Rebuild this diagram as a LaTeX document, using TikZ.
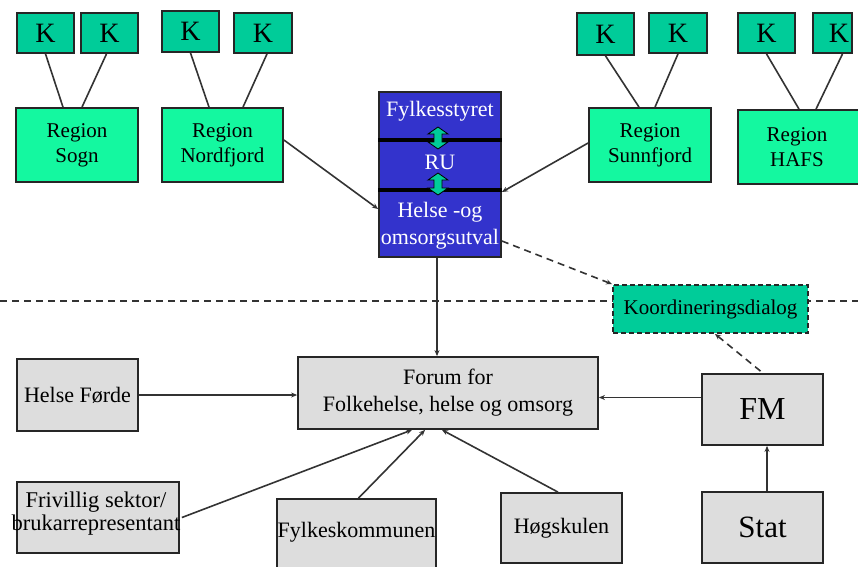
\documentclass[tikz,border=0pt]{standalone}
\usepackage{fontspec}
\setmainfont{Liberation Serif}
\usetikzlibrary{arrows.meta,calc}
\definecolor{kteal}{RGB}{0,204,153}
\definecolor{rgreen}{RGB}{20,248,160}
\definecolor{cblue}{RGB}{51,51,204}
\definecolor{bgray}{RGB}{221,221,221}
\newcommand\dblarr[3]{%
  \draw[dbl] (#1,#2) -- ({#1+10},{#2+7}) -- ({#1+4},{#2+7}) -- ({#1+4},{#3-7}) -- ({#1+10},{#3-7}) -- (#1,#3)
    -- ({#1-10},{#3-7}) -- ({#1-4},{#3-7}) -- ({#1-4},{#2+7}) -- ({#1-10},{#2+7}) -- cycle;}
\begin{document}
\begin{tikzpicture}[x=1pt,y=-1pt,
 box/.style={draw=black!85,line width=1.8pt,inner sep=0pt,align=center},
 sz/.style 2 args={minimum width=#1pt,minimum height=#2pt},
 kbox/.style={box,fill=kteal,font=\fontsize{28}{30}\selectfont},
 rbox/.style={box,fill=rgreen,font=\fontsize{21}{25}\selectfont},
 gbox/.style={box,fill=bgray,font=\fontsize{22}{27}\selectfont},
 bbox/.style={box,fill=cblue},
 wtxt/.style={text=white,font=\fontsize{22}{27}\selectfont,align=center,inner sep=0pt},
 btxt/.style={text=black,font=\fontsize{22}{27}\selectfont,align=center,inner sep=0pt},
 link/.style={draw=black!80,line width=1.6pt},
 arr/.style={link,-{Stealth[length=6pt,width=5pt]}},
 dasharr/.style={arr,dash pattern=on 7pt off 5pt},
 dbl/.style={fill=kteal,draw=black,line width=0.8pt}
]
\useasboundingbox (0,0) rectangle (858,566);
\clip (0,0) rectangle (858,566);
\fill[white] (0,0) rectangle (858,566);

% dashed separator
\coordinate (sepL) at (0,301);
\coordinate (sepR) at (858,301);
\draw[link,dash pattern=on 7pt off 5pt] (sepL) -- (sepR);

% K boxes
\node[kbox,sz={57}{40}] (k1) at (45.5,33) {K};
\node[kbox,sz={57}{40}] (k2) at (109.5,33) {K};
\node[kbox,sz={57}{41}] (k3) at (190.5,31.5) {K};
\node[kbox,sz={58}{40}] (k4) at (263,33) {K};
\node[kbox,sz={57}{42}] (k5) at (605.5,34) {K};
\node[kbox,sz={58}{40}] (k6) at (678,33) {K};
\node[kbox,sz={57}{40}] (k7) at (766.5,33) {K};
\node[kbox,sz={39}{40}] (k8) at (832.5,33) {};
\node[font=\fontsize{28}{30}\selectfont,inner sep=0pt] (k8t) at (839,33) {K};

% Regions
\node[rbox,sz={122}{74}] (sogn) at (77,145) {Region\\Sogn};
\node[rbox,sz={121}{74}] (nord) at (222.5,145) {Region\\Nordfjord};
\node[rbox,sz={122}{74}] (sunn) at (650,145) {Region\\Sunnfjord};
\node[rbox,sz={122}{74}] (hafs) at (799,147) {};
\node[font=\fontsize{21}{25}\selectfont,align=center,inner sep=0pt] (hafst) at (797,147) {Region\\HAFS};

% K -> region links
\draw[link] (k1.south) -- ($(sogn.north)+(-14,0)$);
\draw[link] ($(k2.south)+(-3,0)$) -- ($(sogn.north)+(5,0)$);
\draw[link] (k3.south) -- ($(nord.north)+(-13.5,0)$);
\draw[link] ($(k4.south)+(4,0)$) -- ($(nord.north)+(20.5,0)$);
\draw[link] (k5.south) -- ($(sunn.north)+(-11,0)$);
\draw[link] (k6.south) -- ($(sunn.north)+(5,0)$);
\draw[link] (k7.south) -- ($(hafs.north)+(0,0)$);
\draw[link] ($(k8.south)+(10,0)$) -- ($(hafs.north)+(17,0)$);

% Central stack
\node[bbox,sz={122}{47}] (fs) at (440,115.5) {};
\node[bbox,sz={122}{50}] (ru) at (440,164) {};
\node[bbox,sz={122}{68}] (hs) at (440,223) {};
\draw[line width=3.5pt] (fs.south west) -- (fs.south east);
\draw[line width=3.5pt] (ru.south west) -- (ru.south east);
\node[wtxt] (fst) at (440,111) {Fylkesstyret};
\node[wtxt] (rut) at (440,162) {RU};
\node[wtxt] (hst) at (440,226) {Helse -og\\omsorgsutval};
\dblarr{438}{127}{149}
\dblarr{438}{173}{195}

% Koordineringsdialog
\node[box,fill=kteal,dash pattern=on 5pt off 3pt,sz={195}{48},font=\fontsize{21}{25}\selectfont] (koord) at (710.5,309) {Koordineringsdialog};

% lower boxes
\node[gbox,sz={300}{72}] (forum) at (448,393) {Forum for\\Folkehelse, helse og omsorg};
\node[gbox,sz={121}{72}] (helse) at (77.5,395) {Helse Førde};
\node[gbox,sz={162}{71}] (friv) at (98,517.5) {};
\node[btxt,font=\fontsize{22.5}{23}\selectfont] (frivt) at (96,514) {Frivillig sektor/\\brukarrepresentant};
\node[gbox,sz={159}{91}] (fylk) at (356.5,544.5) {};
\node[btxt] (fylkt) at (356.5,532) {Fylkeskommunen};
\node[gbox,sz={121}{70}] (hog) at (561.5,528) {Høgskulen};
\node[gbox,sz={121}{71},font=\fontsize{32}{34}\selectfont] (fm) at (762.5,409.5) {FM};
\node[gbox,sz={121}{71},font=\fontsize{31}{34}\selectfont] (stat) at (762.5,527.5) {Stat};

% arrows upper
\draw[arr] ($(nord.east)+(0,-5)$) -- ($(hs.west)+(0,-14)$);
\draw[arr] ($(sunn.west)+(0,-2)$) -- ($(hs.east)+(0,-31)$);
\draw[dasharr] ($(hs.east)+(0,18)$) -- (koord.north west);
\draw[arr] ([xshift=-3pt]hs.south) -- ([xshift=-3pt]hs.south |- forum.north);

% arrows lower
\draw[arr] (helse.east) -- (helse.east -| forum.west);
\coordinate (fmout) at ($(fm.west)+(0,-12)$);
\draw[arr] (fmout) -- (fmout -| forum.east);
\draw[arr] ([xshift=4.5pt]stat.north) -- ([xshift=4.5pt]fm.south);
\draw[dasharr] ($(fm.north)+(-2,-2)$) -- ($(koord.south)+(4.5,0)$);
\draw[arr] ($(friv.east)+(2,0)$) -- ($(forum.south)+(-36,0)$);
\draw[arr] ([xshift=2pt]fylk.north) -- ($(forum.south)+(-23,0)$);
\draw[arr] ([xshift=-3.5pt]hog.north) -- ($(forum.south)+(-6,0)$);
\end{tikzpicture}
\end{document}
